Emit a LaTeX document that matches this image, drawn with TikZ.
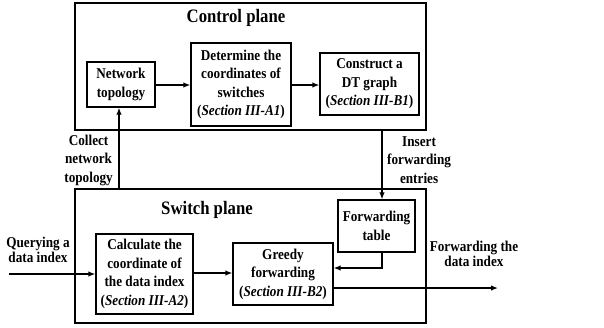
\documentclass[tikz,border=0pt]{standalone}
\usepackage{fontspec}
\setmainfont[FakeStretch=0.88]{Liberation Serif}
\usetikzlibrary{arrows.meta,calc}
\begin{document}
\begin{tikzpicture}[x=1pt,y=-1pt,
  every node/.style={font=\bfseries\fontsize{15}{18.5}\selectfont, align=center, inner sep=0pt},
  plane/.style={draw, line width=1.6pt},
  blk/.style={draw, line width=1.3pt},
  ttl/.style={font=\bfseries\fontsize{19}{22}\selectfont},
  conn/.style={line width=1.3pt, -{Latex[length=7pt,width=5.5pt]}},
  tight/.style={font=\bfseries\fontsize{15}{15.5}\selectfont}]
\useasboundingbox (0,0) rectangle (604,327);
% planes
\node[plane, minimum width=351pt, minimum height=127pt] (ctrl) at (250.5,66.5) {};
\node[plane, minimum width=351pt, minimum height=134pt] (sw) at (250.5,256) {};
\node[ttl] (ctitle) at (236,18) {Control plane};
\node[ttl] (stitle) at (207,210) {Switch plane};
% control blocks
\node[blk, minimum width=68pt, minimum height=45pt] (net) at (121,84.5) {Network\\topology};
\node[blk, minimum width=100pt, minimum height=83pt] (det) at (241,84.5) {Determine the\\coordinates of\\switches\\(\textit{Section III-A1})};
\node[blk, minimum width=99pt, minimum height=62pt] (cons) at (369.5,84) {Construct a\\DT graph\\(\textit{Section III-B1})};
% switch blocks
\node[blk, minimum width=77pt, minimum height=52pt] (ftab) at (376.5,226) {Forwarding\\table};
\node[blk, minimum width=97pt, minimum height=80pt] (calc) at (144.5,274) {Calculate the\\coordinate of\\the data index\\(\textit{Section III-A2})};
\node[blk, minimum width=100pt, minimum height=62pt] (greedy) at (283,274) {Greedy\\forwarding\\(\textit{Section III-B2})};
% coordinates
\coordinate (col) at (119,0);
\coordinate (ins) at (382,0);
\coordinate (qin) at (9,274);
\coordinate (fout) at (498,288);
% connectors
\draw[conn] (net.east |- 0,85) -- (det.west |- 0,85);
\draw[conn] (det.east |- 0,85) -- (cons.west |- 0,85);
\draw[conn] (col |- sw.north) -- (col |- net.south);
\draw[conn] (ins |- ctrl.south) -- (ins |- ftab.north);
\draw[conn] (ins |- ftab.south) |- (greedy.east |- 0,268);
\draw[conn] (qin) -- (calc.west |- qin);
\draw[conn] (calc.east |- 0,273) -- (greedy.west |- 0,273);
\draw[conn] (greedy.east |- fout) -- (fout);
% labels
\node[anchor=east] (lcol) at (113,160) {Collect\\network\\topology};
\node[anchor=west] (lins) at (387,160) {Insert\\forwarding\\entries};
\node[tight] (lq) at (38,250) {Querying a\\data index};
\node[tight] (lf) at (474,254) {Forwarding the\\data index};
\end{tikzpicture}
\end{document}
